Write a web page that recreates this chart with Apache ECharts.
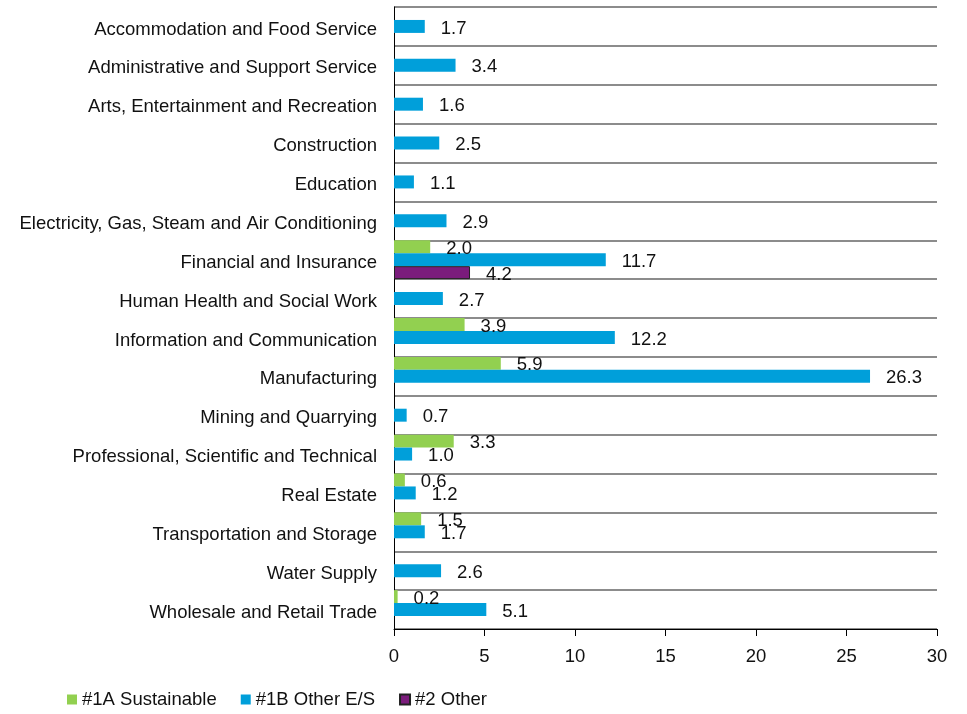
<!DOCTYPE html>
<html>
<head>
<meta charset="utf-8">
<script src="https://cdn.jsdelivr.net/npm/echarts@6/dist/echarts.min.js"></script>
<style>
  html, body { margin: 0; padding: 0; background: #fff; }
  #chart { width: 967px; height: 714px; }
</style>
</head>
<body>
<div id="chart"></div>
<script>
// sectors, top to bottom
var sectors = [
    'Accommodation and Food Service',
    'Administrative and Support Service',
    'Arts, Entertainment and Recreation',
    'Construction',
    'Education',
    'Electricity, Gas, Steam and Air Conditioning',
    'Financial and Insurance',
    'Human Health and Social Work',
    'Information and Communication',
    'Manufacturing',
    'Mining and Quarrying',
    'Professional, Scientific and Technical',
    'Real Estate',
    'Transportation and Storage',
    'Water Supply',
    'Wholesale and Retail Trade'
];
var sustainable = ['-', '-', '-', '-', '-', '-', 2.0, '-', 3.9, 5.9, '-', 3.3, 0.6, 1.5, '-', 0.2];
var otherES = [1.7, 3.4, 1.6, 2.5, 1.1, 2.9, 11.7, 2.7, 12.2, 26.3, 0.7, 1.0, 1.2, 1.7, 2.6, 5.1];
var other = ['-', '-', '-', '-', '-', '-', 4.2, '-', '-', '-', '-', '-', '-', '-', '-', '-'];
var xTicks = [0, 5, 10, 15, 20, 25, 30];

var font = 'Liberation Sans, Arial, Helvetica, sans-serif';
var fs = 18.5;
var chart = echarts.init(document.getElementById('chart'));

var lbl = {
    show: true,
    position: 'right',
    distance: 16,
    offset: [0, 2],
    color: '#111',
    fontSize: fs,
    fontFamily: font,
    formatter: function (p) { return p.value.toFixed(1); }
};

var option = {
    animation: false,
    textStyle: { fontFamily: font },
    grid: { left: 394, right: 30, top: 7, bottom: 85, containLabel: false },
    legend: {
        left: 62,
        bottom: 0,
        icon: 'rect',
        itemWidth: 10,
        itemHeight: 10,
        itemGap: 24,
        textStyle: { fontSize: fs, color: '#111', fontFamily: font },
        data: ['#1A Sustainable', '#1B Other E/S', '#2 Other']
    },
    xAxis: {
        type: 'value',
        min: 0,
        max: xTicks[xTicks.length - 1],
        interval: 5,
        axisLine: { show: true, lineStyle: { color: '#000', width: 1 } },
        axisTick: { show: true, length: 7, lineStyle: { color: '#000' } },
        axisLabel: { fontSize: fs, color: '#111', margin: 18, fontFamily: font },
        splitLine: { show: false }
    },
    yAxis: {
        type: 'category',
        inverse: true,
        data: sectors,
        axisLine: { show: true, lineStyle: { color: '#000', width: 1 } },
        axisTick: { show: false },
        axisLabel: {
            margin: 17,
            formatter: function (v) { return '{a|' + v + '}'; },
            rich: {
                a: { fontSize: fs, color: '#111', fontFamily: font, padding: [6, 0, 0, 0] }
            }
        },
        splitLine: { show: true, lineStyle: { color: '#666', width: 1.5 } }
    },
    series: [
        {
            name: '#1A Sustainable',
            type: 'bar',
            data: sustainable,
            barGap: '0%',
            barCategoryGap: '0%',
            itemStyle: { color: '#92d050' },
            label: lbl
        },
        {
            name: '#1B Other E/S',
            type: 'bar',
            data: otherES,
            itemStyle: { color: '#009fda' },
            label: lbl
        },
        {
            name: '#2 Other',
            type: 'bar',
            data: other,
            itemStyle: { color: '#7b1c7c', borderColor: '#222', borderWidth: 1 },
            label: lbl
        }
    ]
};
chart.setOption(option);
</script>
</body>
</html>
